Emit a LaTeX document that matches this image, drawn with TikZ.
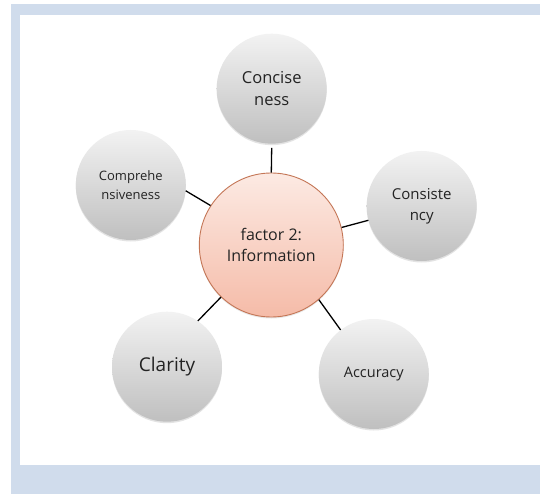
\documentclass[tikz,border=0pt]{standalone}
\usepackage{fontspec}
\setmainfont{Open Sans}
\usetikzlibrary{shapes.geometric, shadows}
\definecolor{framebg}{RGB}{208,220,236}
\definecolor{hubtop}{RGB}{252,234,227}
\definecolor{hubbottom}{RGB}{245,187,168}
\definecolor{hubline}{RGB}{196,118,86}
\definecolor{textgray}{RGB}{35,35,35}
\tikzstyle{hub} = [
    circle,
    minimum size=144pt,
    inner sep=0pt,
    draw=hubline,
    line width=0.9pt,
    top color=hubtop,
    bottom color=hubbottom,
    text=textgray,
    align=center,
    font=\fontsize{16}{21}\selectfont,
    drop shadow={shadow xshift=0pt, shadow yshift=-1.5pt, opacity=0.18}
]
\tikzstyle{item} = [
    circle,
    minimum size=110pt,
    inner sep=0pt,
    top color=black!5,
    bottom color=black!25,
    text=textgray,
    align=center,
    drop shadow={shadow xshift=0pt, shadow yshift=-1.5pt, opacity=0.22}
]
\tikzstyle{link} = [line width=1.3pt, black]

\begin{document}
\begin{tikzpicture}[x=1pt, y=-1pt]

\useasboundingbox (0,0) rectangle (540,494);
\fill [framebg] (11,4) rectangle (540,494);
\fill [white] (19.5,15) rectangle (540,465);

\node (hub) [hub] at (271.3,245) {factor 2:\\Information};

\node (concise) [item, font=\fontsize{16.5}{22}\selectfont] at (271.7,88.7)
{Concise\\ness};

\node (consist) [item, font=\fontsize{15}{21}\selectfont] at (421.7,206)
{Consiste\\ncy};

\node (compre) [item, font=\fontsize{13}{19}\selectfont] at (130.8,185)
{Comprehe\\nsiveness};

\node (clarity) [item, font=\fontsize{19}{22}\selectfont] at (167,366.7)
{Clarity};

\node (accuracy) [item, font=\fontsize{14.5}{20}\selectfont] at (373.8,374)
{Accuracy};

\draw [link] (hub.90) -- ([yshift=-4pt]concise.270);
\draw [link] (hub.14) -- (consist.195);
\draw [link] (hub.147) -- (compre.-6);
\draw [link] (hub.226) -- (clarity.56);
\draw [link] (hub.-49) -- (accuracy.127);

\end{tikzpicture}
\end{document}
